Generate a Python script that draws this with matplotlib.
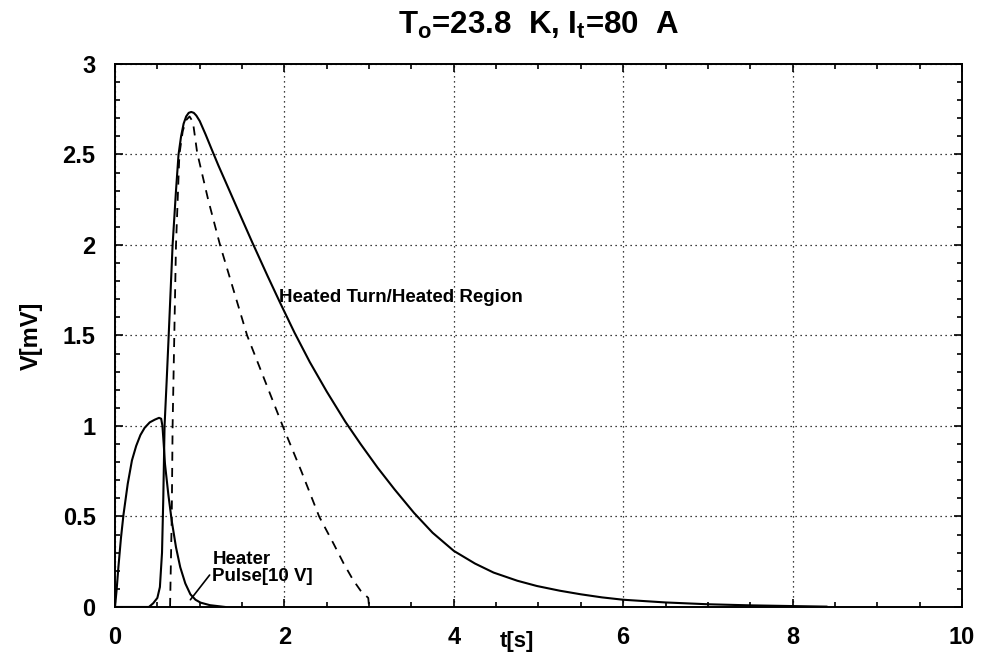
import numpy as np
import matplotlib
matplotlib.use("Agg")
import matplotlib.pyplot as plt
from matplotlib.ticker import MultipleLocator

plt.rcParams['font.family'] = ['Liberation Sans', 'DejaVu Sans']
plt.rcParams['font.weight'] = 'bold'
plt.rcParams['mathtext.fontset'] = 'custom'
plt.rcParams['mathtext.rm'] = 'Liberation Sans:bold'
plt.rcParams['mathtext.it'] = 'Liberation Sans:bold'
plt.rcParams['mathtext.bf'] = 'Liberation Sans:bold'

# Heated turn / heated region voltage (solid)
heated_t = [0.0, 0.40, 0.45, 0.50, 0.53, 0.555, 0.57, 0.585, 0.61, 0.63, 0.68, 0.72,
            0.75, 0.78, 0.81, 0.84, 0.87, 0.90, 0.93, 0.96, 1.00, 1.07, 1.14, 1.22,
            1.30, 1.45, 1.62, 1.80, 1.95, 2.12, 2.30, 2.50, 2.72, 2.90, 3.10, 3.30,
            3.53, 3.75, 4.00, 4.25, 4.47, 4.75, 4.98, 5.25, 5.50, 5.75, 6.00, 6.50,
            7.00, 7.50, 8.00, 8.40]
heated_v = [0.0, 0.0, 0.02, 0.05, 0.11, 0.30, 0.60, 1.00, 1.25, 1.46, 2.00, 2.30,
            2.50, 2.60, 2.67, 2.71, 2.73, 2.735, 2.73, 2.715, 2.685, 2.61, 2.53, 2.44,
            2.355, 2.195, 2.015, 1.83, 1.68, 1.515, 1.353, 1.19, 1.023, 0.90, 0.77, 0.65,
            0.52, 0.41, 0.31, 0.24, 0.19, 0.145, 0.116, 0.09, 0.07, 0.053, 0.04, 0.025,
            0.015, 0.009, 0.005, 0.002]

# second trace (dashed)
dashed_t = [0.65, 0.67, 0.68, 0.70, 0.72, 0.76, 0.80, 0.84, 0.88, 0.92, 0.97, 1.10,
            1.24, 1.40, 1.56, 1.77, 1.98, 2.20, 2.41, 2.58, 2.70, 2.81, 2.90, 2.99, 3.00]
dashed_v = [0.0, 0.5, 1.0, 1.5, 2.0, 2.5, 2.63, 2.69, 2.71, 2.68, 2.51, 2.25,
            2.00, 1.75, 1.50, 1.25, 1.00, 0.75, 0.50, 0.35, 0.24, 0.15, 0.09, 0.05, 0.0]

# heater pulse (solid, 10 V)
pulse_t = [0.0, 0.02, 0.04, 0.07, 0.10, 0.15, 0.20, 0.25, 0.30, 0.35, 0.41, 0.47,
           0.52, 0.545, 0.56, 0.575, 0.59, 0.63, 0.67, 0.72, 0.77, 0.83, 0.89, 0.95,
           1.01, 1.12, 1.30]
pulse_v = [0.0, 0.10, 0.22, 0.38, 0.51, 0.68, 0.81, 0.89, 0.95, 0.99, 1.02, 1.035,
           1.045, 1.04, 1.00, 0.90, 0.79, 0.62, 0.475, 0.33, 0.22, 0.13, 0.07, 0.04,
           0.024, 0.01, 0.0]

x_ticks = [0, 2, 4, 6, 8, 10]
y_ticks = [0, 0.5, 1, 1.5, 2, 2.5, 3]
y_ticklabels = ["0", "0.5", "1", "1.5", "2", "2.5", "3"]

fig = plt.figure(figsize=(9.83, 6.63), dpi=100)
ax = fig.add_axes([0.117, 0.0845, 0.8616, 0.819])

ax.plot(heated_t, heated_v, color='black', lw=1.5)
ax.plot(dashed_t, dashed_v, color='black', lw=1.3, linestyle=(0, (5, 4)))
ax.plot(pulse_t, pulse_v, color='black', lw=1.5)

ax.set_xlim(0, 10)
ax.set_ylim(0, 3)
ax.set_xticks(x_ticks)
ax.set_yticks(y_ticks)
ax.set_yticklabels(y_ticklabels)
ax.xaxis.set_minor_locator(MultipleLocator(0.5))
ax.yaxis.set_minor_locator(MultipleLocator(0.1))

ax.tick_params(which='both', direction='in', top=True, right=True, width=1.2)
ax.tick_params(which='major', length=6, labelsize=17, pad=14)
ax.tick_params(which='minor', length=3.5)
for lab in ax.get_xticklabels() + ax.get_yticklabels():
    lab.set_fontweight('bold')
for s in ax.spines.values():
    s.set_linewidth(1.4)

ax.grid(True, which='major', color='black', linestyle=(0, (1, 3)), lw=0.9)

ax.set_title(r'$\mathrm{T_o}$=23.8  K, $\mathrm{I_t}$=80  A', fontsize=22.5,
             fontweight='bold', pad=22)
ax.set_ylabel('V[mV]', fontsize=17, fontweight='bold', labelpad=14)
ax.text(4.75, -0.13, 't[s]', fontsize=16, fontweight='bold', ha='center', va='top')

ax.text(1.94, 1.71, 'Heated Turn/Heated Region', fontsize=13.5, fontweight='bold',
        ha='left', va='center')
ax.annotate('Heater\nPulse[10 V]', xy=(0.89, 0.04), xytext=(1.15, 0.215),
            fontsize=13.5, fontweight='bold', ha='left', va='center', linespacing=1.0,
            arrowprops=dict(arrowstyle='-', color='black', lw=1.2,
                            shrinkA=0, shrinkB=0, relpos=(0, 0.4)))

fig.savefig('out.png', dpi=100)
